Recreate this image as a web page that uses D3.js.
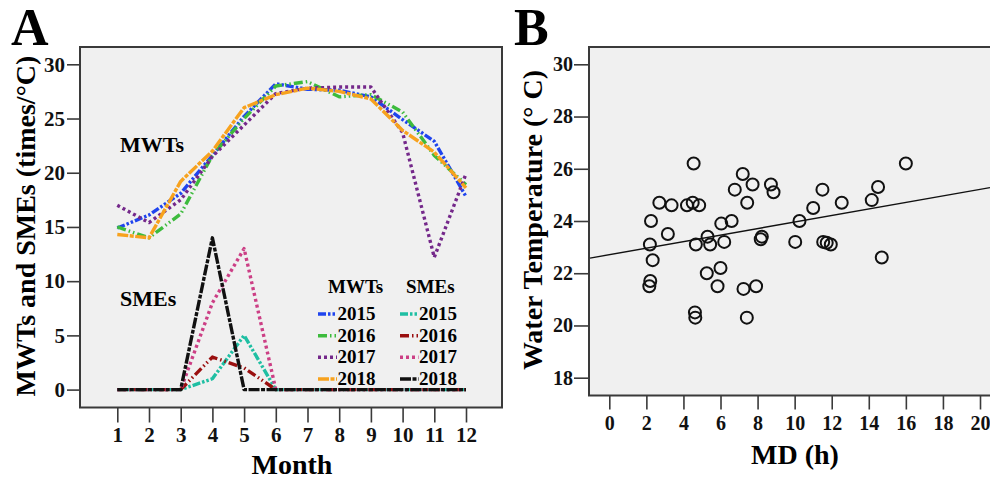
<!DOCTYPE html>
<html><head><meta charset="utf-8">
<script src="https://cdn.jsdelivr.net/npm/d3@7"></script>
<style>
html,body{margin:0;padding:0;background:#fff;}
svg{display:block;font-family:"Liberation Serif","Times New Roman",serif;font-weight:bold;}
</style></head>
<body>
<svg id="chart" width="990" height="479"></svg>
<script>
// ---------- Panel A data ----------
const months = [1,2,3,4,5,6,7,8,9,10,11,12];
const yTicksA = [0,5,10,15,20,25,30];
const years = ["2015","2016","2017","2018"];
const mwt2015 = [14.9,16.1,18.1,21.6,25.2,28.2,27.7,27.6,27.0,24.9,22.9,17.8];
const mwt2016 = [15.0,14.0,16.2,21.6,25.0,28.0,28.4,27.0,27.2,25.6,21.6,18.9];
const mwt2017 = [17.0,15.4,17.5,21.5,24.4,27.3,27.8,27.9,27.9,23.7,12.2,19.9];
const mwt2018 = [14.3,14.0,19.2,22.0,26.0,27.2,27.8,27.5,26.8,23.9,21.9,18.6];
const sme2015 = [0,0,0,1,5,0,0,0,0,0,0,0];
const sme2016 = [0,0,0,3,2,0,0,0,0,0,0,0];
const sme2017 = [0,0,0,8,13,0,0,0,0,0,0,0];
const sme2018 = [0,0,0,14,0,0,0,0,0,0,0,0];

// ---------- Panel B data ----------
const mdHours = [4.55,16.0,7.2,7.73,8.72,8.86,6.77,7.44,11.5,14.5,14.16,12.54,11.0,2.7,3.36,4.19,4.5,4.85,2.25,3.16,2.19,2.34,2.21,2.16,4.67,5.3,5.44,6.04,6.6,6.2,5.26,6.0,5.84,7.24,7.92,7.42,4.62,4.64,8.23,8.17,10.26,10.03,11.54,11.73,11.95,14.7];
const waterTemp = [26.2,26.2,25.8,25.4,25.4,25.1,25.2,24.7,25.2,25.3,24.8,24.7,24.5,24.7,24.6,24.6,24.7,24.6,24.0,23.5,23.1,22.5,21.7,21.5,23.1,23.4,23.1,23.9,24.0,23.2,22.0,22.2,21.5,21.4,21.5,20.3,20.5,20.3,23.4,23.3,24.0,23.2,23.2,23.17,23.1,22.6];
const fitIntercept = 22.71;
const fitSlope = 0.125;
const xTicksB = [0,2,4,6,8,10,12,14,16,18,20];
const yTicksB = [18,20,22,24,26,28,30];

const svg = d3.select("#chart");
const boxStroke = "#3a3a3a";
const plotBg = "#f0f0f0";

// ================= PANEL A =================
const A = {left:80, right:502, top:47, bottom:407.5};
const xA = d3.scaleLinear().domain([1,12]).range([117.3,466]);
const yA = d3.scaleLinear().domain([0,30]).range([389.6,64.3]);

svg.append("rect").attr("x",A.left).attr("y",A.top)
  .attr("width",A.right-A.left).attr("height",A.bottom-A.top)
  .attr("fill",plotBg).attr("stroke",boxStroke).attr("stroke-width",2);

const gyA = svg.append("g").attr("transform",`translate(${A.left},0)`)
  .call(d3.axisLeft(yA).tickValues(yTicksA).tickSize(13).tickPadding(2).tickSizeOuter(0));
gyA.select(".domain").remove();
gyA.selectAll("line").attr("stroke",boxStroke).attr("stroke-width",1.6);
gyA.selectAll("text").attr("font-size",21).attr("font-family","Liberation Serif").attr("font-weight","bold").attr("fill","#111");

const gxA = svg.append("g").attr("transform",`translate(0,${A.bottom})`)
  .call(d3.axisBottom(xA).tickValues(months).tickSize(15).tickSizeOuter(0));
gxA.select(".domain").remove();
gxA.selectAll("line").attr("stroke",boxStroke).attr("stroke-width",1.6);
gxA.selectAll("text").attr("font-size",21).attr("font-family","Liberation Serif").attr("font-weight","bold").attr("fill","#111")
  .attr("y",34.5).attr("dy",0);

const seriesA = [
  {vals:mwt2015, color:"#1f44ee", dash:"8,2,2.5,2,2.5,2"},
  {vals:mwt2016, color:"#3dbb3d", dash:"9,3,1.5,3,1.5,3"},
  {vals:mwt2017, color:"#74288a", dash:"3,3"},
  {vals:mwt2018, color:"#f7a21e", dash:"11,1.5,4,1.5"},
  {vals:sme2015, color:"#1fbfa3", dash:"8,2,2.5,2,2.5,2"},
  {vals:sme2016, color:"#9a0f0f", dash:"9,3,1.5,3,1.5,3"},
  {vals:sme2017, color:"#cc3f85", dash:"3,3"},
  {vals:sme2018, color:"#111111", dash:"11,1.5,4,1.5"}
];
const lineA = d3.line().x((d,i)=>xA(months[i])).y(d=>yA(d));
seriesA.forEach(s=>{
  svg.append("path").datum(s.vals).attr("d",lineA)
    .attr("fill","none").attr("stroke",s.color).attr("stroke-width",3.4)
    .attr("stroke-dasharray",s.dash).attr("stroke-linejoin","round");
});

svg.append("text").attr("x",120).attr("y",151.5).attr("font-size",22).text("MWTs");
svg.append("text").attr("x",120).attr("y",306).attr("font-size",22).text("SMEs");

// legend
const legRowY = [320,341.7,363.3,385];
svg.append("text").attr("x",328).attr("y",293).attr("font-size",19).text("MWTs");
svg.append("text").attr("x",406).attr("y",293).attr("font-size",19).text("SMEs");
years.forEach((yr,i)=>{
  [[0,318,337],[4,400,418.5]].forEach(([off,x0,x1])=>{
    const s = seriesA[i+off];
    svg.append("line").attr("x1",x0).attr("x2",x1).attr("y1",legRowY[i]-6).attr("y2",legRowY[i]-6)
      .attr("stroke",s.color).attr("stroke-width",3.4).attr("stroke-dasharray",s.dash);
    svg.append("text").attr("x",x1+0.5).attr("y",legRowY[i]).attr("font-size",19).text(yr);
  });
});

svg.append("text").attr("transform","translate(35,226) rotate(-90)")
  .attr("text-anchor","middle").attr("font-size",28).text("MWTs and SMEs (times/°C)");
svg.append("text").attr("x",292).attr("y",474).attr("text-anchor","middle").attr("font-size",28).text("Month");
svg.append("text").attr("x",11).attr("y",45).attr("font-size",52).text("A");

// ================= PANEL B =================
const B = {left:589, right:1000, top:47, bottom:395.5};
const xB = d3.scaleLinear().domain([0,20]).range([609.3,980]);
const yB = d3.scaleLinear().domain([18,30]).range([377.7,64.3]);

svg.append("rect").attr("x",B.left).attr("y",B.top)
  .attr("width",B.right-B.left).attr("height",B.bottom-B.top)
  .attr("fill",plotBg).attr("stroke",boxStroke).attr("stroke-width",2);

const gyB = svg.append("g").attr("transform",`translate(${B.left},0)`)
  .call(d3.axisLeft(yB).tickValues(yTicksB).tickSize(15).tickPadding(1).tickSizeOuter(0));
gyB.select(".domain").remove();
gyB.selectAll("line").attr("stroke",boxStroke).attr("stroke-width",1.6);
gyB.selectAll("text").attr("font-size",20).attr("font-family","Liberation Serif").attr("font-weight","bold").attr("fill","#111");

const gxB = svg.append("g").attr("transform",`translate(0,${B.bottom})`)
  .call(d3.axisBottom(xB).tickValues(xTicksB).tickSize(14).tickSizeOuter(0));
gxB.select(".domain").remove();
gxB.selectAll("line").attr("stroke",boxStroke).attr("stroke-width",1.6);
gxB.selectAll("text").attr("font-size",20).attr("font-family","Liberation Serif").attr("font-weight","bold").attr("fill","#111")
  .attr("y",34).attr("dy",0);

const xL = xB.invert(B.left+1), xR = xB.invert(990);
svg.append("line").attr("x1",xB(xL)).attr("x2",xB(xR))
  .attr("y1",yB(fitIntercept+fitSlope*xL)).attr("y2",yB(fitIntercept+fitSlope*xR))
  .attr("stroke","#111").attr("stroke-width",1.4);

svg.append("g").selectAll("circle").data(mdHours).join("circle")
  .attr("cx",d=>xB(d)).attr("cy",(d,i)=>yB(waterTemp[i])).attr("r",6)
  .attr("fill","none").attr("stroke","#111").attr("stroke-width",2);

svg.append("text").attr("transform","translate(542,220) rotate(-90)")
  .attr("text-anchor","middle").attr("font-size",28).text("Water Temperature (° C)");
svg.append("text").attr("x",795).attr("y",463.5).attr("text-anchor","middle").attr("font-size",28).text("MD (h)");
svg.append("text").attr("x",514).attr("y",45).attr("font-size",52).text("B");
</script>
</body></html>
